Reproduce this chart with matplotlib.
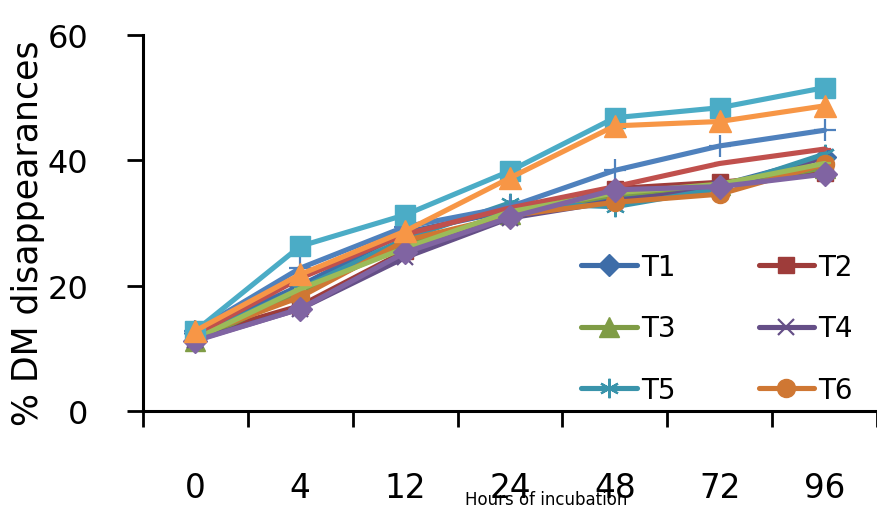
import matplotlib
matplotlib.use("Agg")
import matplotlib.pyplot as plt
import numpy as np

hours = ['0', '4', '12', '24', '48', '72', '96']

T1 = [12.4, 20.0, 28.5, 32.0, 34.0, 36.0, 40.5]
T2 = [12.0, 16.8, 25.5, 31.3, 35.5, 36.5, 38.0]
T3 = [11.2, 19.0, 26.5, 31.5, 34.5, 36.0, 38.8]
T4 = [11.3, 16.3, 24.5, 30.8, 33.5, 35.5, 40.5]
T5 = [11.8, 19.5, 27.5, 33.2, 32.6, 35.5, 41.0]
T6 = [12.0, 18.2, 27.2, 31.2, 33.3, 34.6, 39.4]
T7 = [12.8, 22.8, 29.4, 32.6, 38.4, 42.3, 44.8]
T8 = [12.2, 21.2, 28.2, 32.4, 35.8, 39.5, 41.8]
T9 = [11.5, 19.5, 26.0, 31.8, 34.8, 36.2, 39.5]
T10 = [11.2, 16.3, 25.3, 30.9, 35.3, 35.8, 37.8]
T11 = [12.8, 26.3, 31.3, 38.3, 46.8, 48.4, 51.6]
T12 = [12.8, 21.8, 28.7, 37.2, 45.5, 46.2, 48.7]

legend_labels = ['T1', 'T2', 'T3', 'T4', 'T5', 'T6']

series = [
    (T1, '#3E6DA8', 'D', 11, 'T1'),
    (T2, '#9E3C3A', 's', 12, 'T2'),
    (T3, '#7F9C45', '^', 14, 'T3'),
    (T4, '#654F87', 'x', 12, 'T4'),
    (T5, '#3A94AB', (6, 2, 0), 14, 'T5'),
    (T6, '#CF7733', 'o', 13, 'T6'),
    (T7, '#4F81BD', '+', 16, None),
    (T8, '#C0504D', '_', 8, None),
    (T9, '#9BBB59', '_', 8, None),
    (T10, '#8064A2', 'D', 12, None),
    (T11, '#4BACC6', 's', 14, None),
    (T12, '#F79646', '^', 16, None),
]

fig = plt.figure(figsize=(8.77, 5.06), dpi=100)
ax = fig.add_axes([143 / 877, (506 - 412) / 506, (877 - 143) / 877, (412 - 36) / 506])

x = np.arange(len(hours))
handles = {}
for vals, col, mk, ms, lab in series:
    thin = mk in ('x', '+', '_') or isinstance(mk, tuple)
    ln, = ax.plot(x, vals, color=col, lw=3.7, marker=mk, ms=ms,
                  mec=col, mfc=col, mew=1.6 if thin else 1.0,
                  label=lab if lab else '_nolegend_', solid_capstyle='round', clip_on=False)
    if lab:
        handles[lab] = ln

ax.set_xlim(-0.5, -0.5 + 734 / 106)
ax.set_ylim(0, 60)
ax.set_yticks([0, 20, 40, 60])
ax.set_xticks(x)
ax.set_xticklabels(hours)
ax.set_xticks(np.arange(-0.5, 7, 1.0), minor=True)

for s in ['top', 'right']:
    ax.spines[s].set_visible(False)
for s in ['left', 'bottom']:
    ax.spines[s].set_linewidth(2.2)
    ax.spines[s].set_color('black')

ax.tick_params(axis='y', direction='out', length=11.5, width=2.0, labelsize=23, pad=28)
ax.tick_params(axis='x', which='major', length=0, labelsize=23.5, pad=43)
ax.tick_params(axis='x', which='minor', direction='out', length=11.5, width=2.0)

fig.text(28 / 877, 1 - 233 / 506, '% DM disappearances', rotation=90, fontsize=25,
         ha='center', va='center')
fig.text(546 / 877, 1 - 500 / 506, 'Hours of incubation', fontsize=12,
         ha='center', va='center')

order = ['T1', 'T3', 'T5', 'T2', 'T4', 'T6']
leg = ax.legend([handles[k] for k in order], order, ncol=2, loc='upper left',
                bbox_to_anchor=(581 / 877, 1 - 254 / 506),
                bbox_transform=fig.transFigure, frameon=False, fontsize=20,
                handlelength=2.0, handletextpad=0.15, columnspacing=3.0,
                labelspacing=1.2, borderaxespad=0, borderpad=0)

fig.savefig('out.png', dpi=100)
